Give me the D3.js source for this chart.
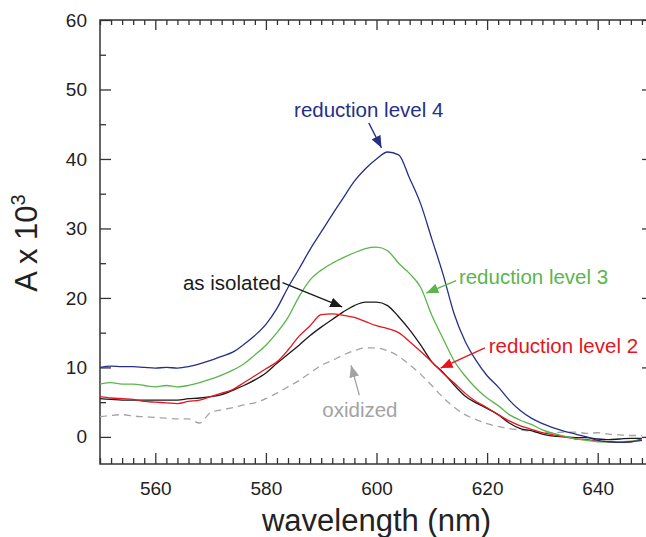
<!DOCTYPE html>
<html>
<head>
<meta charset="utf-8">
<script src="https://cdn.jsdelivr.net/npm/d3@7"></script>
<style>
  body { margin: 0; background: #fff; }
  svg text { font-family: "Liberation Sans", Arial, Helvetica, sans-serif; }
</style>
</head>
<body>
<div class="chart"></div>
<script>
var width = 646, height = 537;
var margin = {top: 20, right: -7, bottom: 73, left: 100};

// wavelengths (nm), every 2 nm
var wavelengths = d3.range(550, 649, 2);

var level4 = [10.0, 10.2, 10.1, 10.1, 10.0, 9.9, 10.0, 9.9, 10.1, 10.5,
  11.0, 11.6, 12.2, 13.3, 14.6, 16.2, 18.5, 21.5, 24.2, 27.0,
  29.5, 32.0, 34.4, 36.8, 38.6, 40.0, 41.0, 40.6, 37.2, 33.5,
  28.5, 23.5, 17.8, 13.8, 11.0, 8.8, 7.2, 5.3, 3.8, 2.7,
  1.9, 1.3, 0.8, 0.4, 0.0, -0.5, -0.7, -0.8, -0.7, -0.5];

var level3 = [7.6, 7.8, 7.6, 7.6, 7.4, 7.2, 7.4, 7.2, 7.4, 7.8,
  8.3, 8.9, 9.6, 10.5, 11.8, 13.2, 15.0, 17.2, 20.2, 22.6,
  24.0, 25.0, 25.8, 26.5, 27.1, 27.3, 26.8, 25.0, 23.5, 21.5,
  17.5, 14.2, 11.0, 8.8, 7.0, 5.6, 4.5, 3.2, 2.4, 1.8,
  1.0, 0.5, 0.1, -0.3, -0.5, -0.7, -0.7, -0.7, -0.6, -0.5];

var level2 = [5.8, 5.6, 5.5, 5.4, 5.1, 5.0, 4.9, 4.8, 5.1, 5.3,
  5.8, 6.3, 6.8, 7.8, 8.8, 9.8, 10.8, 12.5, 14.5, 16.0,
  17.6, 17.7, 17.5, 17.2, 16.6, 16.0, 15.6, 15.0, 13.7, 12.3,
  10.8, 9.2, 7.8, 6.3, 5.1, 4.2, 3.2, 2.3, 1.6, 1.1,
  0.6, 0.3, 0.0, -0.3, -0.4, -0.6, -0.7, -0.8, -0.7, -0.3];

var asIsolated = [5.5, 5.4, 5.3, 5.3, 5.3, 5.3, 5.3, 5.3, 5.5, 5.6,
  5.8, 6.1, 6.7, 7.4, 8.2, 9.2, 10.6, 11.9, 13.2, 14.6,
  15.8, 16.9, 18.0, 18.9, 19.4, 19.4, 18.9, 17.3, 15.4, 13.2,
  10.8, 9.3, 7.5, 5.9, 4.9, 4.1, 3.2, 2.0, 1.2, 0.9,
  0.4, 0.1, 0.0, -0.1, -0.1, -0.3, -0.4, -0.3, -0.2, -0.2];

var oxidized = [2.9, 3.1, 3.2, 3.0, 2.9, 2.8, 2.7, 2.6, 2.6, 2.0,
  3.5, 3.9, 4.2, 4.6, 4.9, 5.5, 6.3, 7.2, 8.1, 9.2,
  10.3, 11.0, 11.8, 12.4, 12.8, 12.8, 12.4, 11.6, 10.4, 9.0,
  7.4, 5.7, 4.3, 3.2, 2.5, 1.9, 1.5, 1.2, 1.0, 0.8,
  0.6, 0.6, 0.7, 0.7, 0.5, 0.6, 0.4, 0.3, 0.2, 0.2];

var xMajor = [560, 580, 600, 620, 640];
var yMajor = [0, 10, 20, 30, 40, 50, 60];

var series = [
  {name: "oxidized", values: oxidized, color: "#a3a3a3", dash: "7,5"},
  {name: "as isolated", values: asIsolated, color: "#1a1a1a", dash: null},
  {name: "reduction level 2", values: level2, color: "#e5141d", dash: null},
  {name: "reduction level 3", values: level3, color: "#5bb54c", dash: null},
  {name: "reduction level 4", values: level4, color: "#262f88", dash: null}
];

// label text position and arrow [from, to], in data units
var notes = [
  {text: "reduction level 4", color: "#262f88", tx: 585.1, ty: 46.0, from: [598.6, 45.2], to: [600.9, 41.6]},
  {text: "reduction level 3", color: "#5bb54c", tx: 614.9, ty: 22.0, from: [614.4, 22.5], to: [609.0, 20.7]},
  {text: "as isolated", color: "#1a1a1a", tx: 565.0, ty: 21.2, from: [583.0, 22.2], to: [593.8, 18.7]},
  {text: "reduction level 2", color: "#e5141d", tx: 620.3, ty: 12.1, from: [619.6, 12.8], to: [611.6, 9.9]},
  {text: "oxidized", color: "#a3a3a3", tx: 590.2, ty: 2.9, from: [596.9, 6.0], to: [595.4, 10.3]}
];

var innerW = width - margin.left - margin.right,
    innerH = height - margin.top - margin.bottom;

var x = d3.scaleLinear().domain([550, 650]).range([0, innerW]);
var y = d3.scaleLinear().domain([-3.9, 60]).range([innerH, 0]);

var svg = d3.select(".chart").append("svg")
    .attr("width", width)
    .attr("height", height);

var defs = svg.append("defs");
defs.append("clipPath").attr("id", "plot")
  .append("rect").attr("width", innerW).attr("height", innerH);

notes.forEach(function(n, i) {
  defs.append("marker")
      .attr("id", "arrow" + i)
      .attr("markerUnits", "userSpaceOnUse")
      .attr("viewBox", "0 0 12 10")
      .attr("refX", 12).attr("refY", 5)
      .attr("markerWidth", 12).attr("markerHeight", 10)
      .attr("orient", "auto")
    .append("path")
      .attr("d", "M0,0L12,5L0,10Z")
      .attr("fill", n.color);
});

var g = svg.append("g")
    .attr("transform", "translate(" + margin.left + "," + margin.top + ")");

var xMinor = d3.range(550, 651, 2).filter(function(d) { return xMajor.indexOf(d) < 0; });
var yMinor = [-5, 5, 15, 25, 35, 45, 55];

function styleAxis(sel) {
  sel.select(".domain").remove();
  sel.selectAll("line").attr("stroke", "#333").attr("stroke-width", 1.3);
  sel.selectAll("text").attr("fill", "#222").style("font-size", "19px");
}

// bottom
g.append("g").attr("transform", "translate(0," + innerH + ")")
    .call(d3.axisBottom(x).tickValues(xMajor).tickSize(-11).tickPadding(18).tickFormat(d3.format("d")))
    .call(styleAxis);
g.append("g").attr("transform", "translate(0," + innerH + ")")
    .call(d3.axisBottom(x).tickValues(xMinor).tickSize(-6).tickFormat(""))
    .call(styleAxis);
// top
g.append("g")
    .call(d3.axisTop(x).tickValues(xMajor).tickSize(-10).tickFormat(""))
    .call(styleAxis);
g.append("g")
    .call(d3.axisTop(x).tickValues(xMinor).tickSize(-5).tickFormat(""))
    .call(styleAxis);
// left
g.append("g")
    .call(d3.axisLeft(y).tickValues(yMajor).tickSize(-11).tickPadding(13).tickFormat(d3.format("d")))
    .call(styleAxis);
g.append("g")
    .call(d3.axisLeft(y).tickValues(yMinor.filter(function(d) { return d > -3.9; })).tickSize(-6).tickFormat(""))
    .call(styleAxis);
// right
g.append("g").attr("transform", "translate(" + innerW + ",0)")
    .call(d3.axisRight(y).tickValues(yMajor).tickSize(-11).tickFormat(""))
    .call(styleAxis);

// frame
g.append("rect")
    .attr("width", innerW).attr("height", innerH)
    .attr("fill", "none").attr("stroke", "#333").attr("stroke-width", 1.5);

var line = d3.line()
    .curve(d3.curveMonotoneX)
    .x(function(d, i) { return x(wavelengths[i]); })
    .y(function(d) { return y(d); });

g.append("g").attr("clip-path", "url(#plot)")
  .selectAll("path")
  .data(series)
  .enter().append("path")
    .attr("d", function(s) { return line(s.values); })
    .attr("fill", "none")
    .attr("stroke", function(s) { return s.color; })
    .attr("stroke-width", 1.3)
    .attr("stroke-dasharray", function(s) { return s.dash; })
    .attr("stroke-linejoin", "round");

// annotations
var ann = g.append("g");
notes.forEach(function(n, i) {
  ann.append("line")
      .attr("x1", x(n.from[0])).attr("y1", y(n.from[1]))
      .attr("x2", x(n.to[0])).attr("y2", y(n.to[1]))
      .attr("stroke", n.color).attr("stroke-width", 1.3)
      .attr("marker-end", "url(#arrow" + i + ")");
  ann.append("text")
      .attr("x", x(n.tx)).attr("y", y(n.ty))
      .attr("fill", n.color)
      .style("font-size", "20.5px")
      .text(n.text);
});

// axis titles
svg.append("text")
    .attr("x", margin.left + x(600)).attr("y", 531)
    .attr("text-anchor", "middle")
    .attr("fill", "#222")
    .style("font-size", "31px")
    .text("wavelength (nm)");

var yt = svg.append("text")
    .attr("transform", "translate(37,243) rotate(-90)")
    .attr("text-anchor", "middle")
    .attr("fill", "#222")
    .style("font-size", "31px");
yt.append("tspan").text("A x 10");
yt.append("tspan").attr("dy", -12).style("font-size", "20px").text("3");
</script>
</body>
</html>
